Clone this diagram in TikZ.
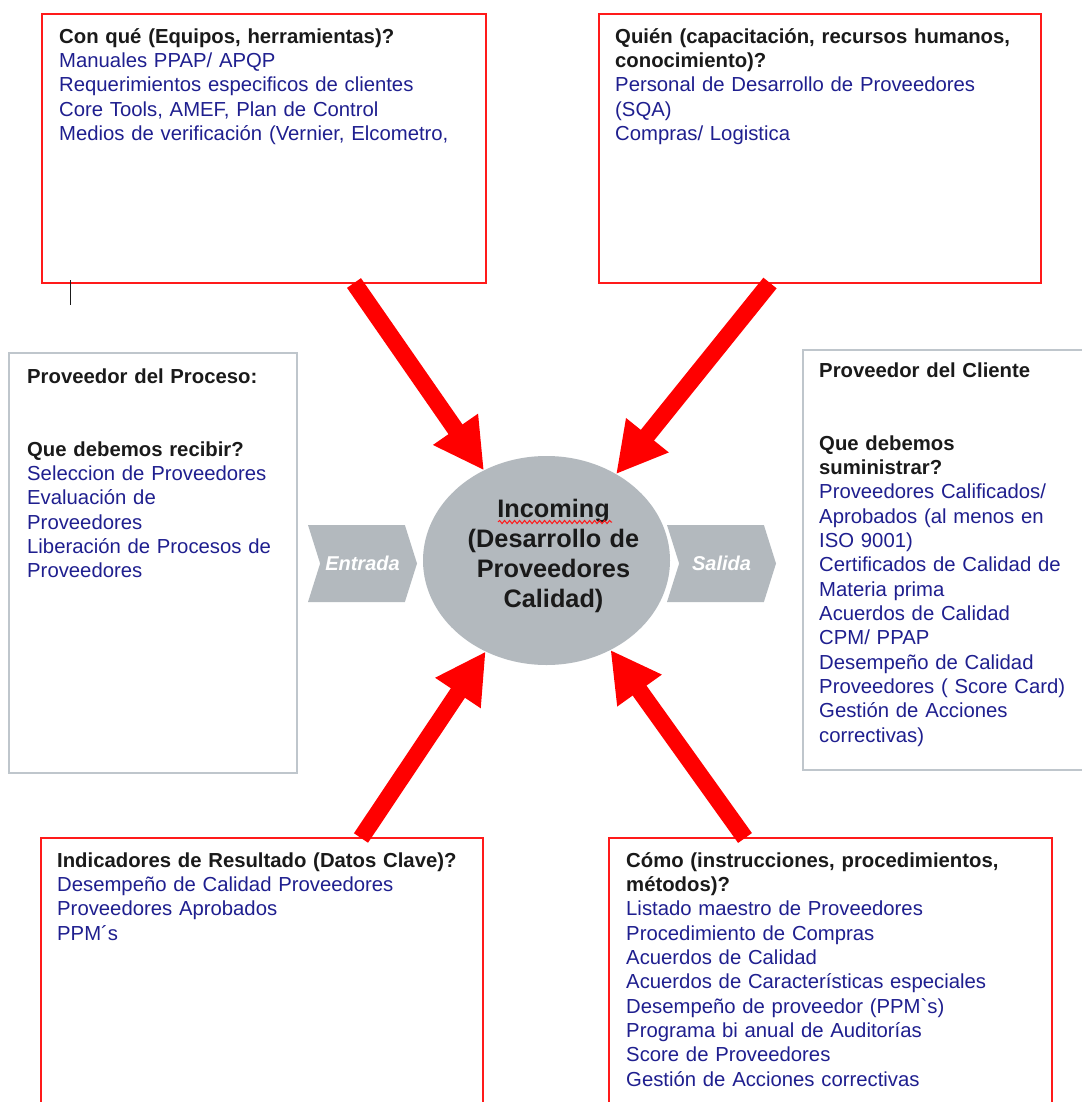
\documentclass[tikz,border=0pt]{standalone}
\usepackage{fontspec}
\setmainfont{Liberation Sans}
\usetikzlibrary{arrows.meta, positioning, shapes.geometric, shapes.symbols, decorations.pathmorphing}
\definecolor{boxred}{HTML}{FF1A1A}
\definecolor{arrowred}{HTML}{FF0000}
\definecolor{boxgray}{HTML}{BFC6CC}
\definecolor{procgray}{HTML}{B3B9BE}
\definecolor{txtblue}{HTML}{1F1F8F}
\definecolor{txtblack}{HTML}{1A1A1A}
\newcommand{\ttl}[1]{\textcolor{txtblack}{\bfseries #1}}

\begin{document}
\begin{tikzpicture}[x=1pt, y=-1pt,
  redbox/.style={draw=boxred, line width=2pt, outer sep=0pt, inner sep=0pt, minimum height=269pt, anchor=north west},
  graybox/.style={draw=boxgray, line width=2pt, outer sep=0pt, inner sep=0pt, anchor=north west},
  boxtext/.style={inner sep=0pt, text width=430pt, align=left, text=txtblue, font=\fontsize{20.3}{24.33}\selectfont, execute at begin node=\strut},
  inctext/.style={anchor=north, inner sep=0pt, text width=230pt, align=center, text=txtblack, font=\fontsize{25.3}{30}\selectfont\bfseries, execute at begin node=\strut},
  chevron/.style={signal, signal from=west, signal to=east, signal pointer angle=145, fill=procgray, minimum width=109pt, minimum height=77pt, inner sep=0pt, text=white, font=\fontsize{20}{24}\selectfont\bfseries\itshape},
  bigarrow/.style={line width=17pt, arrowred, -{Triangle[width=51pt, length=50pt]}}
]
\path[use as bounding box, fill=white] (0,0) rectangle (1081,1102);

% boxes
\node[redbox, minimum width=444pt] (conque) at (42,14) {};
\node[redbox, minimum width=442pt] (quien) at (599,14) {};
\node[graybox, minimum width=288pt, minimum height=420pt] (provproc) at (9,353) {};
\node[graybox, minimum width=290pt, minimum height=420pt] (provcli) at (803,350) {};
\node[redbox, minimum width=442pt, minimum height=300pt] (indic) at (41,838) {};
\node[redbox, minimum width=443pt, minimum height=300pt] (como) at (609,838) {};

% proceso
\node[ellipse, fill=procgray, outer sep=0pt, inner sep=0pt, minimum width=247pt, minimum height=209pt] (inc) at (546.5,560.5) {};
\node[inctext] (inclabel) at ([xshift=7pt, yshift=-40pt]inc.north) {Incoming\\(Desarrollo de\\Proveedores\\Calidad)};
\draw[boxred, line width=1pt, decorate, decoration={snake, amplitude=1.6pt, segment length=5pt}] (498,522) -- (612,522);
\node[chevron] (entrada) at (362.5,563.5) {Entrada};
\node[chevron] (salida) at (721.5,563.5) {Salida};

% texts
\node[boxtext, below right=12pt and 17pt of conque.north west] (conque-txt) {\ttl{Con qué (Equipos, herramientas)?}\\
Manuales PPAP/ APQP\\
Requerimientos especificos de clientes\\
Core Tools, AMEF, Plan de Control\\
Medios de verificación (Vernier, Elcometro,};
\node[boxtext, below right=12pt and 16pt of quien.north west] (quien-txt) {\ttl{Quién (capacitación, recursos humanos,}\\
\ttl{conocimiento)?}\\
Personal de Desarrollo de Proveedores\\
(SQA)\\
Compras/ Logistica};
\node[boxtext, below right=13pt and 18pt of provproc.north west] (provproc-txt) {\ttl{Proveedor del Proceso:}\\[2\baselineskip]
\ttl{Que debemos recibir?}\\
Seleccion de Proveedores\\
Evaluación de\\
Proveedores\\
Liberación de Procesos de\\
Proveedores};
\node[boxtext, below right=10pt and 16pt of provcli.north west] (provcli-txt) {\ttl{Proveedor del Cliente}\\[2\baselineskip]
\ttl{Que debemos}\\
\ttl{suministrar?}\\
Proveedores Calificados/\\
Aprobados (al menos en\\
ISO 9001)\\
Certificados de Calidad de\\
Materia prima\\
Acuerdos de Calidad\\
CPM/ PPAP\\
Desempeño de Calidad\\
Proveedores ( Score Card)\\
Gestión de Acciones\\
correctivas)};
\node[boxtext, below right=12pt and 16pt of indic.north west] (indic-txt) {\ttl{Indicadores de Resultado (Datos Clave)?}\\
Desempeño de Calidad Proveedores\\
Proveedores Aprobados\\
PPM´s};
\node[boxtext, below right=12pt and 17pt of como.north west] (como-txt) {\ttl{Cómo (instrucciones, procedimientos,}\\
\ttl{métodos)?}\\
Listado maestro de Proveedores\\
Procedimiento de Compras\\
Acuerdos de Calidad\\
Acuerdos de Características especiales\\
Desempeño de proveedor (PPM\textasciigrave s)\\
Programa bi anual de Auditorías\\
Score de Proveedores\\
Gestión de Acciones correctivas};

% arrows
\draw[bigarrow] ([xshift=90pt]conque.south) -- (inc);
\draw[bigarrow] ([xshift=-50pt]quien.south) -- (inc);
\draw[bigarrow] ([xshift=99pt]indic.north) -- (inc);
\draw[bigarrow] ([xshift=-85.5pt]como.north) -- (inc);

\draw[txtblack, line width=1pt] (70,280) -- (70,305);
\end{tikzpicture}
\end{document}
